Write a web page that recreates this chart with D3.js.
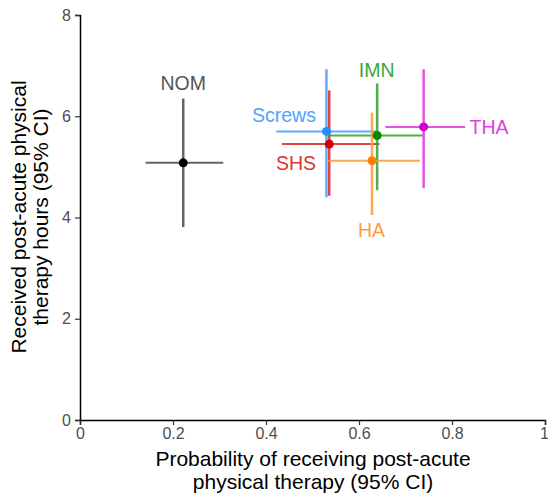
<!DOCTYPE html>
<html><head><meta charset="utf-8">
<script src="https://cdn.jsdelivr.net/npm/d3@7"></script>
<style>body{margin:0;background:#fff;} text{font-family:"Liberation Sans",Arial,sans-serif;}</style>
</head><body>
<svg id="c" width="548" height="497"></svg>
<script>
const groups = ["NOM","Screws","SHS","IMN","HA","THA"];
const probEst = [0.222,0.530,0.536,0.639,0.628,0.739];
const probLo  = [0.141,0.422,0.434,0.534,0.534,0.657];
const probHi  = [0.308,0.638,0.644,0.738,0.731,0.828];
const hrsEst  = [5.08,5.70,5.45,5.62,5.12,5.79];
const hrsLo   = [3.81,4.40,4.43,4.54,4.05,4.58];
const hrsHi   = [6.35,6.93,6.51,6.65,6.07,6.93];
const lineColors = ["#555555","#4da3ff","#dd3333","#3aa83a","#ff9d3f","#e040e0"];
const dotColors  = ["#000000","#1e90ff","#d00000","#008b00","#ff8000","#cd00cd"];
const labelX = [0.222,0.4387,0.4645,0.638,0.627,0.8796];
const labelY = [6.657,6.025,5.083,6.914,3.753,5.788];
const xTicks = [0,0.2,0.4,0.6,0.8,1];
const xTickLabels = ["0","0.2","0.4","0.6","0.8","1"];
const yTicks = [0,2,4,6,8];

const svg = d3.select("#c");
const x = d3.scaleLinear().domain([0,1]).range([80,545]);
const y = d3.scaleLinear().domain([0,8]).range([420,15]);

const xa = svg.append("g").attr("transform","translate(0,420)")
  .call(d3.axisBottom(x).tickValues(xTicks).tickFormat((d,i)=>xTickLabels[i]).tickSize(5).tickPadding(3));
const ya = svg.append("g").attr("transform","translate(80,0)")
  .call(d3.axisLeft(y).tickValues(yTicks).tickSize(5).tickPadding(4));
[xa,ya].forEach(a=>{
  a.select(".domain").attr("stroke","#000").attr("stroke-width",1.5);
  a.selectAll(".tick line").attr("stroke","#333").attr("stroke-width",1.2);
  a.selectAll(".tick text").attr("fill","#4d4d4d").style("font-size","16px");
});
xa.selectAll(".tick text").filter((d,i)=>i===xTicks.length-1).attr("dx","-1");

svg.append("text").attr("x",313).attr("y",466).attr("text-anchor","middle")
  .style("font-size","21px").attr("fill","#000").text("Probability of receiving post-acute");
svg.append("text").attr("x",313).attr("y",489).attr("text-anchor","middle")
  .style("font-size","21px").attr("fill","#000").text("physical therapy (95% CI)");
const yt = svg.append("text").attr("transform","translate(26,217) rotate(-90)").attr("text-anchor","middle")
  .style("font-size","21px").attr("fill","#000");
yt.append("tspan").attr("x",0).attr("dy",0).text("Received post-acute physical");
yt.append("tspan").attr("x",0).attr("dy",22).text("therapy hours (95% CI)");

const data = groups.map((g,i)=>({g,i}));
const gg = svg.append("g");
data.forEach(d=>{
  const i=d.i;
  gg.append("line").attr("x1",x(probLo[i])).attr("x2",x(probHi[i])).attr("y1",y(hrsEst[i])).attr("y2",y(hrsEst[i]))
    .attr("stroke",lineColors[i]).attr("stroke-width",2).attr("opacity",0.9);
  gg.append("line").attr("x1",x(probEst[i])).attr("x2",x(probEst[i])).attr("y1",y(hrsLo[i])).attr("y2",y(hrsHi[i]))
    .attr("stroke",lineColors[i]).attr("stroke-width",2.5).attr("opacity",0.9);
});
data.forEach(d=>{
  const i=d.i;
  gg.append("circle").attr("cx",x(probEst[i])).attr("cy",y(hrsEst[i])).attr("r",4.5).attr("fill",dotColors[i]);
  gg.append("text").attr("x",x(labelX[i])).attr("y",y(labelY[i])).attr("text-anchor","middle").attr("dy","0.36em")
    .style("font-size","19.5px").attr("fill",lineColors[i]).text(groups[i]);
});
</script>
</body></html>
